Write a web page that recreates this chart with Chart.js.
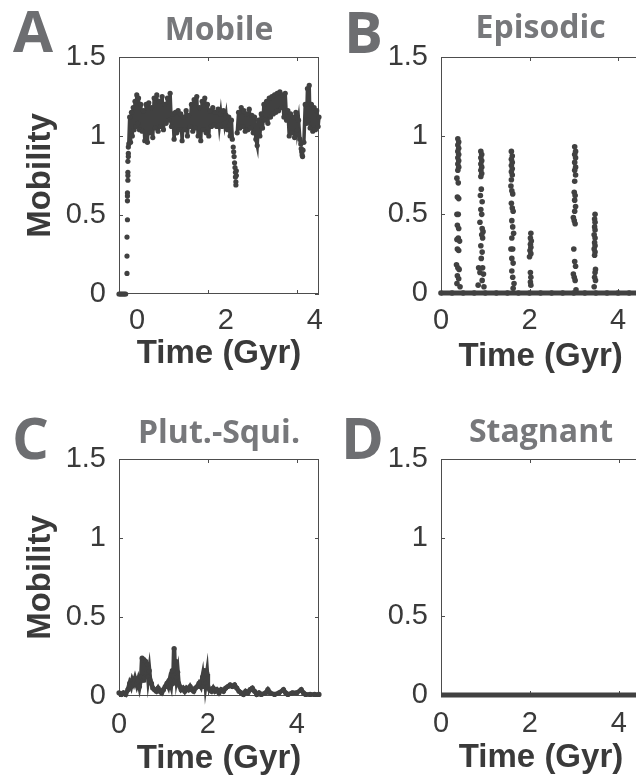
<!DOCTYPE html>
<html>
<head>
<meta charset="utf-8">
<script src="https://cdn.jsdelivr.net/npm/chart.js@4.4.1/dist/chart.umd.min.js"></script>
<style>
  html, body { margin: 0; padding: 0; background: #fff; width: 636px; height: 780px; overflow: hidden; }
  canvas { position: absolute; }
  #panelA { left: 0; top: 0; }
  #panelB { left: 318px; top: 0; }
  #panelC { left: 0; top: 390px; }
  #panelD { left: 318px; top: 390px; }
</style>
</head>
<body>
<canvas id="panelA" width="322" height="390"></canvas>
<canvas id="panelB" width="325" height="390"></canvas>
<canvas id="panelC" width="322" height="400"></canvas>
<canvas id="panelD" width="325" height="400"></canvas>
<script>
const panelLetters = ['A', 'B', 'C', 'D'];
const panelTitles = ['Mobile', 'Episodic', 'Plut.-Squi.', 'Stagnant'];
const timeTicks = [0, 2, 4];
const timeTickLabels = ['0', '2', '4'];
const mobilityTicks = [0, 0.5, 1, 1.5];
const mobilityTickLabels = ['0', '0.5', '1', '1.5'];

// A: mobile lid
const mobileTime = [
  0, 0.03, 0.06, 0.09, 0.12, 0.15, 0.18, 0.18, 0.18, 0.19,
  0.19, 0.19, 0.19, 0.20, 0.20, 0.20, 0.20, 0.21, 0.21, 0.21,
  0.22, 0.24, 0.26, 0.28, 0.30, 0.32, 0.34, 0.36, 0.38, 0.40,
  0.42, 0.44, 0.46, 0.49, 0.52, 0.55, 0.58, 0.61, 0.64, 0.67,
  0.70, 0.73, 0.76, 0.79, 0.82, 0.85, 0.88, 0.91, 0.94, 0.97,
  1.00, 1.03, 1.06, 1.09, 1.12, 1.15, 1.18, 1.21, 1.24, 1.27,
  1.30, 1.33, 1.36, 1.39, 1.42, 1.45, 1.48, 1.51, 1.54, 1.57,
  1.60, 1.63, 1.66, 1.69, 1.72, 1.75, 1.78, 1.81, 1.84, 1.87,
  1.90, 1.93, 1.96, 1.99, 2.02, 2.05, 2.08, 2.11, 2.14, 2.17,
  2.20, 2.23, 2.26, 2.29, 2.32, 2.35, 2.38, 2.41, 2.44, 2.47,
  2.50, 2.53, 2.55, 2.57, 2.58, 2.59, 2.60, 2.61, 2.62, 2.62,
  2.63, 2.63, 2.64, 2.64, 2.66, 2.69, 2.72, 2.75, 2.78, 2.81,
  2.84, 2.87, 2.90, 2.93, 2.96, 2.99, 3.02, 3.05, 3.08, 3.11,
  3.14, 3.17, 3.20, 3.23, 3.26, 3.29, 3.32, 3.35, 3.38, 3.41,
  3.44, 3.47, 3.50, 3.53, 3.56, 3.59, 3.62, 3.65, 3.68, 3.71,
  3.74, 3.77, 3.80, 3.83, 3.86, 3.89, 3.92, 3.95, 3.98, 4.01,
  4.04, 4.07, 4.09, 4.10, 4.11, 4.12, 4.13, 4.14, 4.16, 4.19,
  4.22, 4.24, 4.26, 4.28, 4.30, 4.33, 4.36, 4.39, 4.42, 4.45,
  4.48, 4.50
];
const mobileValue = [
  0, 0, 0, 0, 0, 0, 0.13, 0.24, 0.36, 0.47,
  0.59, 0.62, 0.64, 0.72, 0.75, 0.77, 0.84, 0.87, 0.89, 0.93,
  0.95, 1.12, 0.96, 1.15, 1.00, 1.18, 1.04, 1.22, 1.06, 1.26,
  1.08, 1.24, 1.04, 1.20, 1.03, 1.16, 0.97, 1.20, 0.96, 1.21,
  1.02, 1.18, 0.99, 1.24, 1.05, 1.26, 1.03, 1.22, 1.06, 1.25,
  1.04, 1.20, 1.08, 1.24, 1.10, 1.27, 1.06, 1.14, 0.98, 1.15,
  1.02, 1.16, 1.04, 1.14, 0.97, 1.12, 1.04, 1.16, 1.00, 1.13,
  1.06, 1.20, 1.03, 1.23, 1.05, 1.25, 1.00, 1.18, 0.97, 1.22,
  1.04, 1.24, 1.02, 1.20, 1.00, 1.16, 1.06, 1.18, 1.07, 1.15,
  1.06, 1.17, 1.07, 1.14, 1.06, 1.16, 1.08, 1.13, 1.04, 1.12,
  1.00, 1.10, 0.98, 0.93, 0.90, 0.87, 0.83, 0.80, 0.77, 0.74,
  0.71, 0.69, 0.75, 0.78, 1.02, 1.15, 1.05, 1.18, 1.06, 1.16,
  1.03, 1.14, 1.04, 1.17, 1.05, 1.13, 1.02, 1.12, 0.98, 0.94,
  1.10, 1.00, 1.14, 1.05, 1.20, 1.10, 1.22, 1.08, 1.24, 1.12,
  1.25, 1.14, 1.26, 1.15, 1.27, 1.16, 1.28, 1.18, 1.26, 1.12,
  1.27, 1.10, 1.16, 1.00, 1.14, 1.02, 1.12, 0.99, 1.15, 1.04,
  1.10, 0.98, 0.95, 0.92, 0.90, 0.88, 0.87, 0.91, 0.96, 1.20,
  1.08, 1.30, 1.10, 1.32, 1.05, 1.20, 1.03, 1.18, 1.04, 1.16,
  1.06, 1.12
];

// B: episodic lid (quiet baseline first, then the six overturn bursts)
const episodicTime = [
  0, 0.25, 0.5, 0.75, 1, 1.25, 1.5, 1.75, 2, 2.25, 2.5, 2.75, 3, 3.25, 3.5, 3.75, 4, 4.25, 4.5,
  0.38, 0.40, 0.38, 0.40, 0.38, 0.40, 0.38, 0.40, 0.38, 0.40, 0.38,
  0.36, 0.39, 0.37, 0.40, 0.36, 0.39, 0.37, 0.40, 0.36, 0.39, 0.42, 0.37, 0.40, 0.35, 0.38, 0.41, 0.37, 0.40, 0.36, 0.43,
  0.90, 0.92, 0.90, 0.92, 0.90, 0.92, 0.90, 0.92, 0.90,
  0.91, 0.89, 0.93, 0.90, 0.92, 0.88, 0.93, 0.95, 0.92, 0.94, 0.90, 0.93, 0.91, 0.85, 0.88, 0.94, 0.96, 0.93, 0.84, 0.97,
  1.59, 1.61, 1.59, 1.61, 1.59, 1.61, 1.59, 1.61, 1.59,
  1.58, 1.60, 1.62, 1.59, 1.61, 1.63, 1.60, 1.62, 1.64, 1.60, 1.58, 1.62, 1.60, 1.63, 1.60, 1.62, 1.65, 1.63,
  2.03, 2.02, 2.04, 2.02, 2.03, 2.01, 2.03, 2.00, 2.02, 2.03, 2.02, 2.03,
  3.02, 3.04, 3.02, 3.04, 3.02, 3.04, 3.02, 3.04,
  3.02, 3.01, 3.03, 3.02, 3.04, 3.02, 2.99, 3.01, 3.03, 3.00, 3.02, 3.04, 2.99, 3.01, 3.03, 3.05,
  3.48, 3.47, 3.48, 3.47, 3.48, 3.46, 3.48, 3.47, 3.48, 3.46, 3.48, 3.47, 3.49, 3.48, 3.47, 3.49, 3.46
];
const episodicValue = [
  0, 0, 0, 0, 0, 0, 0, 0, 0, 0, 0, 0, 0, 0, 0, 0, 0, 0, 0,
  0.98, 0.96, 0.94, 0.92, 0.90, 0.88, 0.86, 0.84, 0.82, 0.80, 0.78,
  0.73, 0.70, 0.61, 0.60, 0.50, 0.50, 0.43, 0.41, 0.34, 0.35, 0.33, 0.28, 0.27, 0.18, 0.16, 0.15, 0.11, 0.09, 0.06, 0.04,
  0.90, 0.88, 0.86, 0.84, 0.82, 0.80, 0.78, 0.76, 0.74,
  0.66, 0.62, 0.58, 0.53, 0.50, 0.45, 0.41, 0.39, 0.37, 0.35, 0.30, 0.26, 0.22, 0.16, 0.13, 0.16, 0.12, 0.08, 0.05, 0.04,
  0.90, 0.87, 0.85, 0.83, 0.81, 0.79, 0.77, 0.75, 0.72,
  0.68, 0.65, 0.63, 0.57, 0.54, 0.52, 0.46, 0.42, 0.38, 0.35, 0.28, 0.28, 0.22, 0.19, 0.14, 0.10, 0.06, 0.03,
  0.38, 0.35, 0.33, 0.31, 0.29, 0.27, 0.25, 0.23, 0.13, 0.10, 0.07, 0.05,
  0.93, 0.90, 0.88, 0.86, 0.83, 0.80, 0.78, 0.75,
  0.71, 0.64, 0.62, 0.59, 0.55, 0.52, 0.48, 0.46, 0.44, 0.28, 0.20, 0.17, 0.12, 0.10, 0.08, 0.02,
  0.50, 0.47, 0.45, 0.42, 0.40, 0.37, 0.35, 0.32, 0.30, 0.28, 0.26, 0.24, 0.15, 0.13, 0.10, 0.08, 0.04
];

// C: plutonic-squishy lid
const plutTime = [
  0, 0.05, 0.1, 0.15, 0.2, 0.24, 0.27, 0.3, 0.33, 0.36,
  0.4, 0.43, 0.46, 0.5, 0.52, 0.54, 0.56, 0.58, 0.6, 0.62,
  0.64, 0.66, 0.68, 0.7, 0.73, 0.76, 0.8, 0.84, 0.88, 0.92,
  0.96, 1.0, 1.04, 1.08, 1.11, 1.14, 1.17, 1.2, 1.22, 1.24,
  1.26, 1.28, 1.3, 1.32, 1.34, 1.37, 1.4, 1.44, 1.48, 1.52,
  1.56, 1.6, 1.64, 1.68, 1.72, 1.76, 1.8, 1.84, 1.88, 1.9,
  1.93, 1.95, 1.98, 2.0, 2.04, 2.08, 2.12, 2.16, 2.2, 2.25,
  2.3, 2.35, 2.4, 2.45, 2.5, 2.55, 2.6, 2.65, 2.7, 2.75,
  2.8, 2.85, 2.9, 2.95, 3.0, 3.05, 3.1, 3.15, 3.2, 3.3,
  3.35, 3.4, 3.5, 3.6, 3.7, 3.75, 3.8, 3.9, 4.0, 4.1,
  4.15, 4.2, 4.3, 4.4, 4.5
];
const plutValue = [
  0.02, 0.01, 0.02, 0.01, 0.04, 0.08, 0.06, 0.10, 0.08, 0.11,
  0.07, 0.10, 0.06, 0.12, 0.24, 0.10, 0.23, 0.12, 0.22, 0.14,
  0.20, 0.12, 0.16, 0.10, 0.08, 0.05, 0.04, 0.03, 0.05, 0.03,
  0.02, 0.04, 0.06, 0.08, 0.06, 0.10, 0.07, 0.16, 0.08, 0.30,
  0.10, 0.22, 0.12, 0.15, 0.08, 0.06, 0.04, 0.05, 0.03, 0.05,
  0.04, 0.06, 0.04, 0.03, 0.05, 0.06, 0.08, 0.06, 0.12, 0.06,
  0.16, 0.08, 0.14, 0.06, 0.04, 0.03, 0.05, 0.03, 0.04, 0.02,
  0.04, 0.03, 0.05, 0.06, 0.07, 0.06, 0.07, 0.05, 0.03, 0.02,
  0.01, 0.03, 0.02, 0.04, 0.05, 0.03, 0.01, 0.02, 0.01, 0.02,
  0.04, 0.02, 0.01, 0.02, 0.04, 0.02, 0.01, 0.02, 0.02, 0.04,
  0.02, 0.01, 0.01, 0.01, 0.01
];

// D: stagnant lid
const stagnantTime = [0, 0.5, 1, 1.5, 2, 2.5, 3, 3.5, 4, 4.5];
const stagnantValue = [0, 0, 0, 0, 0, 0, 0, 0, 0, 0];

const INK = '#414141';
const AXIS_TEXT = '#3a3a3a';
const TITLE_GREY = '#77787b';
const LETTER_GREY = '#6d6e71';
const HIDDEN = 'rgba(0,0,0,0)';

// box round the plot area with short inward ticks, plus the panel letter
const framePlugin = {
  id: 'frame',
  beforeDatasetsDraw(chart) {
    const { ctx, chartArea: a, scales: { x, y } } = chart;
    ctx.save();
    ctx.strokeStyle = '#4d4d4d';
    ctx.lineWidth = 1;
    ctx.strokeRect(a.left + 0.5, a.top + 0.5, a.right - a.left - 1, a.bottom - a.top - 1);
    ctx.beginPath();
    x.ticks.forEach(t => {
      const px = Math.round(x.getPixelForValue(t.value)) + 0.5;
      ctx.moveTo(px, a.top); ctx.lineTo(px, a.top + 4);
      ctx.moveTo(px, a.bottom); ctx.lineTo(px, a.bottom - 4);
    });
    y.ticks.forEach(t => {
      const py = Math.round(y.getPixelForValue(t.value)) + 0.5;
      ctx.moveTo(a.left, py); ctx.lineTo(a.left + 4, py);
      ctx.moveTo(a.right, py); ctx.lineTo(a.right - 4, py);
    });
    ctx.stroke();
    ctx.restore();
  },
  afterDraw(chart, args, opts) {
    const ctx = chart.ctx;
    ctx.save();
    ctx.font = 'bold 58px "Open Sans"';
    ctx.fillStyle = LETTER_GREY;
    ctx.textBaseline = 'alphabetic';
    ctx.fillText(opts.letter, opts.lx, opts.ly);
    ctx.restore();
  }
};

const keepBand = (a, b) => (a >= 0.935 && b >= 0.935) || (a === 0 && b === 0);
const keepZero = (a, b) => a === 0 && b === 0;
const keepAll = () => true;

function makePanel(id, o) {
  const pts = o.time.map((t, i) => ({ x: t, y: o.value[i] }));
  const titleLH = 32 * 1.2;
  return new Chart(document.getElementById(id), {
    type: 'scatter',
    data: {
      datasets: [{
        data: pts,
        showLine: true,
        borderColor: INK,
        backgroundColor: INK,
        borderWidth: o.lineWidth,
        pointRadius: o.dot,
        pointBorderWidth: 0,
        pointHoverRadius: 0,
        clip: false,
        segment: {
          borderColor: c => o.keep(c.p0.parsed.y, c.p1.parsed.y) ? INK : HIDDEN
        }
      }]
    },
    plugins: [framePlugin],
    options: {
      responsive: false,
      animation: false,
      devicePixelRatio: 1,
      events: [],
      layout: { padding: { left: 0, top: 0, right: o.padRight, bottom: o.padBottom } },
      plugins: {
        legend: { display: false },
        tooltip: { enabled: false },
        title: {
          display: true,
          text: o.title,
          fullSize: false,
          color: TITLE_GREY,
          font: { family: '"Open Sans", sans-serif', size: 32, weight: 'bold', lineHeight: 1.2 },
          padding: { top: o.titleMid - titleLH / 2, bottom: o.areaTop - o.titleMid - titleLH / 2 }
        },
        frame: { letter: o.letter, lx: o.lx, ly: o.ly }
      },
      scales: {
        x: {
          type: 'linear',
          min: 0,
          max: 4.5,
          afterBuildTicks: s => { s.ticks = timeTicks.map(v => ({ value: v })); },
          afterFit: s => { s.height = o.xHeight; },
          grid: { display: false, drawTicks: false },
          border: { display: false },
          ticks: {
            padding: o.xPad,
            labelOffset: o.labelOffset,
            color: AXIS_TEXT,
            font: { family: '"Liberation Sans", Arial, sans-serif', size: 29 },
            callback: (v, i) => timeTickLabels[i]
          },
          title: {
            display: true,
            text: 'Time (Gyr)',
            color: AXIS_TEXT,
            padding: 0,
            font: { family: '"Liberation Sans", Arial, sans-serif', size: 33, weight: 'bold', lineHeight: 1.2 }
          }
        },
        y: {
          type: 'linear',
          min: 0,
          max: 1.5,
          afterBuildTicks: s => { s.ticks = mobilityTicks.map(v => ({ value: v })); },
          afterFit: s => { s.width = o.yWidth; },
          grid: { display: false, drawTicks: false },
          border: { display: false },
          ticks: {
            padding: 13,
            color: AXIS_TEXT,
            font: { family: '"Liberation Sans", Arial, sans-serif', size: 29 },
            callback: (v, i) => mobilityTickLabels[i]
          },
          title: {
            display: o.yTitle,
            text: 'Mobility',
            color: AXIS_TEXT,
            padding: { top: 20.7, bottom: 0 },
            font: { family: '"Liberation Sans", Arial, sans-serif', size: 33, weight: 'bold', lineHeight: 1.2 }
          }
        }
      }
    }
  });
}

makePanel('panelA', {
  time: mobileTime, value: mobileValue, keep: keepBand, lineWidth: 3.5, dot: 2.6,
  title: panelTitles[0], letter: panelLetters[0], lx: 13, ly: 52,
  titleMid: 31, areaTop: 57, yWidth: 119, yTitle: true, padRight: 3,
  xPad: 9.6, xHeight: 80, padBottom: 390 - 294 - 80, labelOffset: 18
});
makePanel('panelB', {
  time: episodicTime, value: episodicValue, keep: keepZero, lineWidth: 5, dot: 2.8,
  title: panelTitles[1], letter: panelLetters[1], lx: 26, ly: 53,
  titleMid: 29, areaTop: 57, yWidth: 123, yTitle: false, padRight: 2,
  xPad: 10.5, xHeight: 84, padBottom: 390 - 293 - 84, labelOffset: 0
});
makePanel('panelC', {
  time: plutTime, value: plutValue, keep: keepAll, lineWidth: 4.5, dot: 2.6,
  title: panelTitles[2], letter: panelLetters[2], lx: 12, ly: 69,
  titleMid: 44, areaTop: 69, yWidth: 119, yTitle: true, padRight: 3,
  xPad: 11.6, xHeight: 83, padBottom: 400 - 306 - 83, labelOffset: 0
});
makePanel('panelD', {
  time: stagnantTime, value: stagnantValue, keep: keepAll, lineWidth: 5, dot: 0,
  title: panelTitles[3], letter: panelLetters[3], lx: 23, ly: 69,
  titleMid: 43, areaTop: 69, yWidth: 123, yTitle: false, padRight: 2,
  xPad: 11.6, xHeight: 83, padBottom: 400 - 305 - 83, labelOffset: 0
});
</script>
</body>
</html>
